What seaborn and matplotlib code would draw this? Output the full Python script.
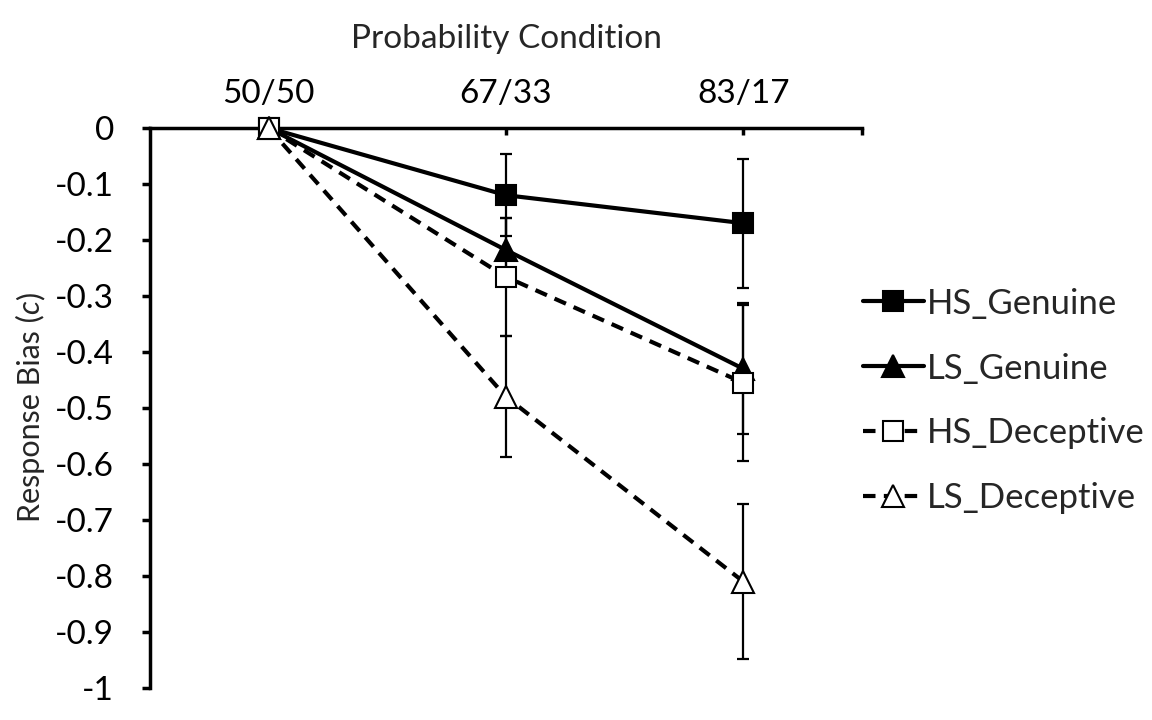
import matplotlib
matplotlib.use("Agg")
import matplotlib.pyplot as plt
import seaborn as sns
import pandas as pd
import numpy as np

categories = ["50/50", "67/33", "83/17"]
hs_genuine = [0.0, -0.12, -0.17]
hs_genuine_err = [0.0, 0.073, 0.115]
ls_genuine = [0.0, -0.218, -0.43]
ls_genuine_err = [0.0, 0.058, 0.117]
hs_deceptive = [0.0, -0.266, -0.455]
hs_deceptive_err = [0.0, 0.105, 0.139]
ls_deceptive = [0.0, -0.48, -0.81]
ls_deceptive_err = [0.0, 0.108, 0.138]
yticks = [0, -0.1, -0.2, -0.3, -0.4, -0.5, -0.6, -0.7, -0.8, -0.9, -1]
ytick_labels = ["0", "-0.1", "-0.2", "-0.3", "-0.4", "-0.5", "-0.6", "-0.7", "-0.8", "-0.9", "-1"]

sns.set_style("white")
plt.rcParams["font.family"] = ["Lato", "DejaVu Sans"]
plt.rcParams["mathtext.fontset"] = "custom"
plt.rcParams["mathtext.it"] = "Lato:italic"
plt.rcParams["mathtext.rm"] = "Lato"

fig = plt.figure(figsize=(11.52, 7.2), dpi=100)
ax = fig.add_axes([150/1152, 1-688/720, (862-150)/1152, (688-128)/720])

x = np.arange(len(categories))
series = [
    ("HS_Genuine", hs_genuine, hs_genuine_err, "s", "black", "-", 15),
    ("LS_Genuine", ls_genuine, ls_genuine_err, "^", "black", "-", 16),
    ("HS_Deceptive", hs_deceptive, hs_deceptive_err, "s", "white", (0, (3, 2)), 15),
    ("LS_Deceptive", ls_deceptive, ls_deceptive_err, "^", "white", (0, (3, 2)), 16),
]

for name, vals, errs, m, fc, ls, ms in series:
    ax.errorbar(x[1:], vals[1:], yerr=errs[1:], fmt="none", ecolor="black",
                elinewidth=1.6, capsize=4.6, capthick=1.6, zorder=2, clip_on=False)

for i, (name, vals, errs, m, fc, ls, ms) in enumerate(series):
    df = pd.DataFrame({"x": x, "y": vals})
    sns.lineplot(data=df, x="x", y="y", ax=ax, color="black", linewidth=3.0,
                 linestyle=ls, marker=m, markersize=ms, markerfacecolor=fc,
                 markeredgecolor="black", markeredgewidth=1.5,
                 label=name, clip_on=False, zorder=3 + i, dash_capstyle="butt")

ax.set_xlim(-0.5, 2.5)
ax.set_ylim(-1, 0)
ax.xaxis.tick_top()
ax.xaxis.set_label_position("top")
ax.set_xticks(x)
ax.set_xticklabels(categories)
ax.set_xticks([2.5], minor=True)
ax.set_yticks(yticks)
ax.set_yticklabels(ytick_labels)

for s in ["bottom", "right"]:
    ax.spines[s].set_visible(False)
for s in ["top", "left"]:
    ax.spines[s].set_visible(True)
    ax.spines[s].set_linewidth(2.5)
    ax.spines[s].set_color("black")

ax.tick_params(axis="x", which="both", direction="in", length=5, width=2.5,
               labelsize=24, pad=14, top=True, bottom=False, colors="black")
ax.tick_params(axis="y", direction="out", length=6, width=2.5, labelsize=24,
               pad=20, left=True, colors="black")

ax.set_xlabel("Probability Condition", fontsize=24, labelpad=22)
ax.set_ylabel("")
# y label built from two real text pieces so that "c" is italic
ylab_y = 1 - 407/720
t1 = fig.text(30/1152, ylab_y, "Response Bias (", rotation=90, fontsize=22,
              ha="center", va="center")
fig.canvas.draw()
r = fig.canvas.get_renderer()
bb = t1.get_window_extent(r)
# shift so that whole label is centred
full_len_px = bb.height
t1.remove()
pieces = [("Response Bias (", "normal"), ("c", "italic"), (")", "normal")]
tmp = [fig.text(0, 0, p, fontsize=22, rotation=90, style=st) for p, st in pieces]
fig.canvas.draw()
lens = [t.get_window_extent(r).height for t in tmp]
for t in tmp:
    t.remove()
total = sum(lens)
start = 407 + total / 2  # pixel y (top-origin) of the bottom end
cur = start
for (p, st), L in zip(pieces, lens):
    fig.text(30/1152, 1 - (cur - L / 2) / 720, p, fontsize=22, rotation=90,
             style=st, ha="center", va="center")
    cur -= L
ax.grid(False)

leg = ax.legend(loc="center left", frameon=False,
                fontsize=25, handlelength=1.75, handletextpad=0.1, labelspacing=0.95,
                borderaxespad=0, borderpad=0)
leg.set_bbox_to_anchor((863/1152, 1-401/720), transform=fig.transFigure)

fig.savefig("out.png", dpi=100)
